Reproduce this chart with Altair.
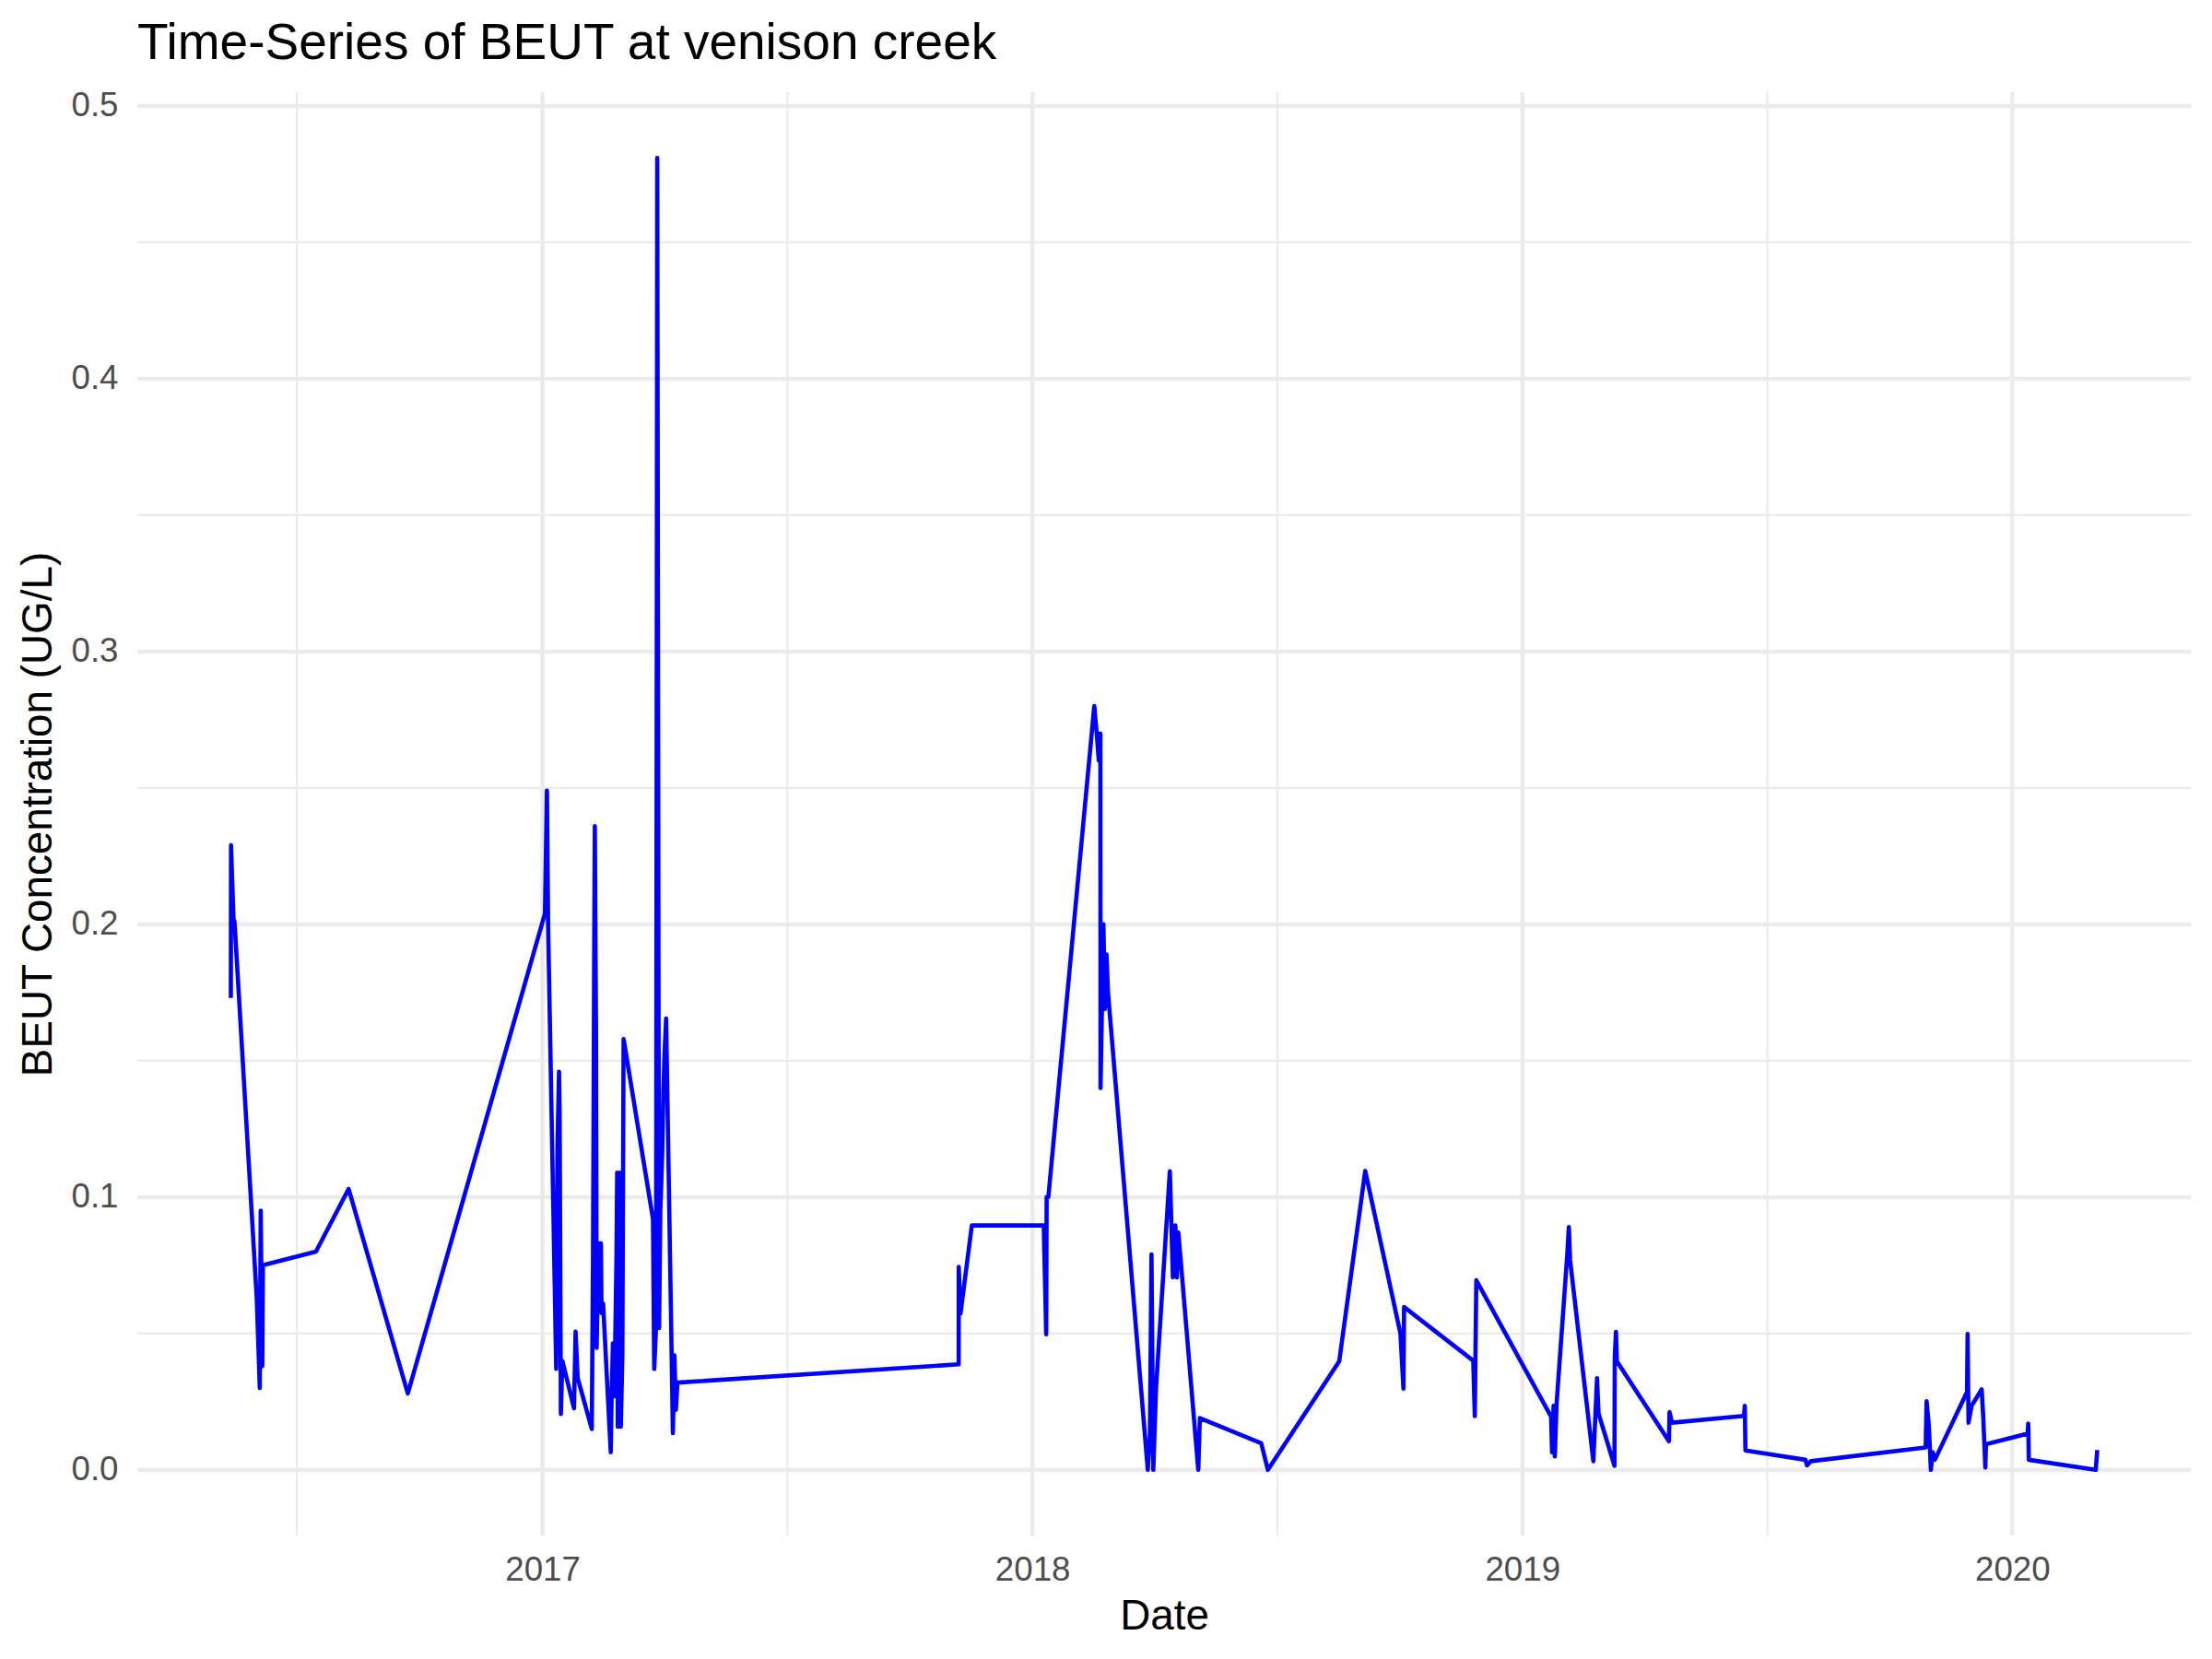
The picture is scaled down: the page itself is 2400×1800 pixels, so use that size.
import altair as alt
import pandas as pd

years = [
    2016.3656, 2016.3660, 2016.3710, 2016.3731, 2016.4183, 2016.4245, 2016.4264, 2016.4296, 2016.4308,
    2016.5388, 2016.6053, 2016.7258,
    2017.005, 2017.009, 2017.0115, 2017.028, 2017.0306, 2017.0337, 2017.035, 2017.0375, 2017.0406,
    2017.0643, 2017.0675, 2017.0718, 2017.1006, 2017.1031, 2017.1056, 2017.1068, 2017.1093, 2017.1105,
    2017.1143, 2017.1193, 2017.1205, 2017.1237, 2017.1393, 2017.1411, 2017.1437, 2017.1468, 2017.1511,
    2017.1524, 2017.1536, 2017.1574, 2017.1599, 2017.1630, 2017.1655, 2017.2255, 2017.2280, 2017.2317,
    2017.2342, 2017.2367, 2017.2380, 2017.2405, 2017.2442, 2017.2467, 2017.2492, 2017.2523, 2017.2642,
    2017.2661, 2017.2692, 2017.2723, 2017.2754,
    2017.8495, 2017.8496, 2017.8532, 2017.8763, 2018.0231, 2018.0281, 2018.0290, 2018.0325,
    2018.1262, 2018.1312, 2018.1355, 2018.1387, 2018.1390, 2018.1449, 2018.1480, 2018.1512, 2018.1543,
    2018.2355, 2018.2398, 2018.2430, 2018.2467, 2018.2523, 2018.2805, 2018.2867, 2018.2917, 2018.2948,
    2018.2979, 2018.3385, 2018.3417, 2018.4669, 2018.4806, 2018.6262, 2018.6793, 2018.7511, 2018.7573,
    2018.7586, 2018.8998, 2018.9029, 2018.9060,
    2019.0587, 2019.0606, 2019.0637, 2019.0662, 2019.0700, 2019.0918, 2019.0949, 2019.0974, 2019.1449,
    2019.1524, 2019.1555, 2019.1880, 2019.1886, 2019.1911, 2019.1930, 2019.2992, 2019.3004, 2019.3054,
    2019.4522, 2019.4541, 2019.4553, 2019.5778, 2019.5809, 2019.5890, 2019.8232, 2019.8251, 2019.8295,
    2019.8339, 2019.8376, 2019.8420, 2019.9076, 2019.9088, 2019.9107, 2019.9170, 2019.9375, 2019.9407,
    2019.9450, 2019.9463, 2020.0312, 2020.0325, 2020.0337, 2020.1699, 2020.1730,
]
values = [
    0.173, 0.229, 0.202, 0.201, 0.063, 0.030, 0.095, 0.038, 0.075,
    0.080, 0.103, 0.028,
    0.204, 0.249, 0.199, 0.037, 0.119, 0.146, 0.130, 0.0205, 0.040,
    0.0226, 0.0507, 0.0337, 0.015, 0.078, 0.194, 0.236, 0.158, 0.0447,
    0.083, 0.083, 0.0575, 0.061, 0.0065, 0.027, 0.0464, 0.027, 0.0796,
    0.109, 0.0158, 0.109, 0.0158, 0.042, 0.158, 0.092, 0.037, 0.052,
    0.481, 0.190, 0.052, 0.095, 0.115, 0.139, 0.153, 0.1655, 0.0355,
    0.0135, 0.042, 0.022, 0.032,
    0.0387, 0.0744, 0.0573, 0.0896, 0.0896, 0.0497, 0.100, 0.100,
    0.280, 0.270, 0.260, 0.270, 0.140, 0.200, 0.169, 0.189, 0.175,
    0.0, 0.0127, 0.079, 0.0, 0.030, 0.1095, 0.0706, 0.0896, 0.0706,
    0.087, 0.0, 0.019, 0.0098, 0.0, 0.0398, 0.1096, 0.050, 0.0298,
    0.0597, 0.040, 0.0197, 0.0695,
    0.0195, 0.0065, 0.0235, 0.0049, 0.0246, 0.0793, 0.089, 0.077, 0.0032,
    0.0336, 0.0207, 0.0015, 0.0415, 0.0506, 0.0398, 0.0105, 0.0212, 0.0173,
    0.0198, 0.0235, 0.0071, 0.0037, 0.0017, 0.0032, 0.0082, 0.0252, 0.0167,
    0.0, 0.0065, 0.0037, 0.0286, 0.0498, 0.0173, 0.0235, 0.0295, 0.0195,
    0.0009, 0.0094, 0.0133, 0.017, 0.0037, 0.0, 0.0073,
]

x_tick_years = [2017, 2018, 2019, 2020]
x_minor_years = [2016.5, 2017.5, 2018.5, 2019.5]
y_major = [0.0, 0.1, 0.2, 0.3, 0.4, 0.5]
y_minor = [0.05, 0.15, 0.25, 0.35, 0.45]


def to_date(y):
    yr = int(y)
    start = pd.Timestamp(year=yr, month=1, day=1)
    end = pd.Timestamp(year=yr + 1, month=1, day=1)
    return (start + (end - start) * (y - yr)).strftime("%Y-%m-%dT%H:%M:%S")


df = pd.DataFrame({
    "Date": [to_date(y) for y in years],
    "BEUT": values,
    "idx": list(range(len(years))),
})

# ggplot-style 5% expansion of the data ranges
ymin, ymax = min(years), max(years)
xpad = (ymax - ymin) * 0.05
x_domain = [to_date(ymin - xpad), to_date(ymax + xpad)]
vmin, vmax = min(values), max(values)
vpad = (vmax - vmin) * 0.05
y_domain = [vmin - vpad, vmax + vpad]

FONT = "Liberation Sans, Arial, Helvetica, sans-serif"
GRID = "#EBEBEB"

xscale = alt.Scale(domain=x_domain)
yscale = alt.Scale(domain=y_domain, nice=False, zero=False)

xaxis = alt.Axis(values=[alt.DateTime(year=y, month=1, date=1) for y in x_tick_years],
                 format="%Y", grid=False, ticks=False, domain=False, tickSize=0,
                 labelPadding=19, titlePadding=10)
yaxis = alt.Axis(values=y_major, format=".1f", grid=False, ticks=False, domain=False,
                 tickSize=0, labelPadding=21, titlePadding=11)
XT = "Date"
YT = "BEUT Concentration (UG/L)"

vmajor = alt.Chart(pd.DataFrame({"d": [to_date(y) for y in x_tick_years]})).mark_rule(
    color=GRID, strokeWidth=4.4).encode(x=alt.X("d:T", scale=xscale, axis=xaxis, title=XT))
vminor = alt.Chart(pd.DataFrame({"d": [to_date(y) for y in x_minor_years]})).mark_rule(
    color=GRID, strokeWidth=2.2).encode(x=alt.X("d:T", scale=xscale, axis=xaxis, title=XT))
hmajor = alt.Chart(pd.DataFrame({"v": y_major})).mark_rule(
    color=GRID, strokeWidth=4.4).encode(y=alt.Y("v:Q", scale=yscale, axis=yaxis, title=YT))
hminor = alt.Chart(pd.DataFrame({"v": y_minor})).mark_rule(
    color=GRID, strokeWidth=2.2).encode(y=alt.Y("v:Q", scale=yscale, axis=yaxis, title=YT))

line = alt.Chart(df).mark_line(
    color="#0000FF", strokeWidth=4.6, strokeJoin="round", strokeCap="butt"
).encode(
    x=alt.X("Date:T", scale=xscale, axis=xaxis, title=XT),
    y=alt.Y("BEUT:Q", scale=yscale, axis=yaxis, title=YT),
    order="idx:Q",
)

chart = alt.layer(hminor, vminor, hmajor, vmajor, line).properties(
    width=2228, height=1566,
    title=alt.Title("Time-Series of BEUT at venison creek", anchor="start", frame="group",
                    fontSize=55, font=FONT, fontWeight="normal", color="#000000",
                    baseline="alphabetic", offset=36, dy=58),
    autosize=alt.AutoSizeParams(type="none"),
    padding={"left": 141, "top": 92, "right": 15, "bottom": 126},
    background="white",
).configure_view(stroke=None).configure_axis(
    labelFont=FONT, titleFont=FONT, labelFontSize=36.7, titleFontSize=45.8,
    labelColor="#4D4D4D", titleColor="#000000", titleFontWeight="normal",
)

chart.save("out.html", embed_options={"renderer": "svg", "actions": False})
